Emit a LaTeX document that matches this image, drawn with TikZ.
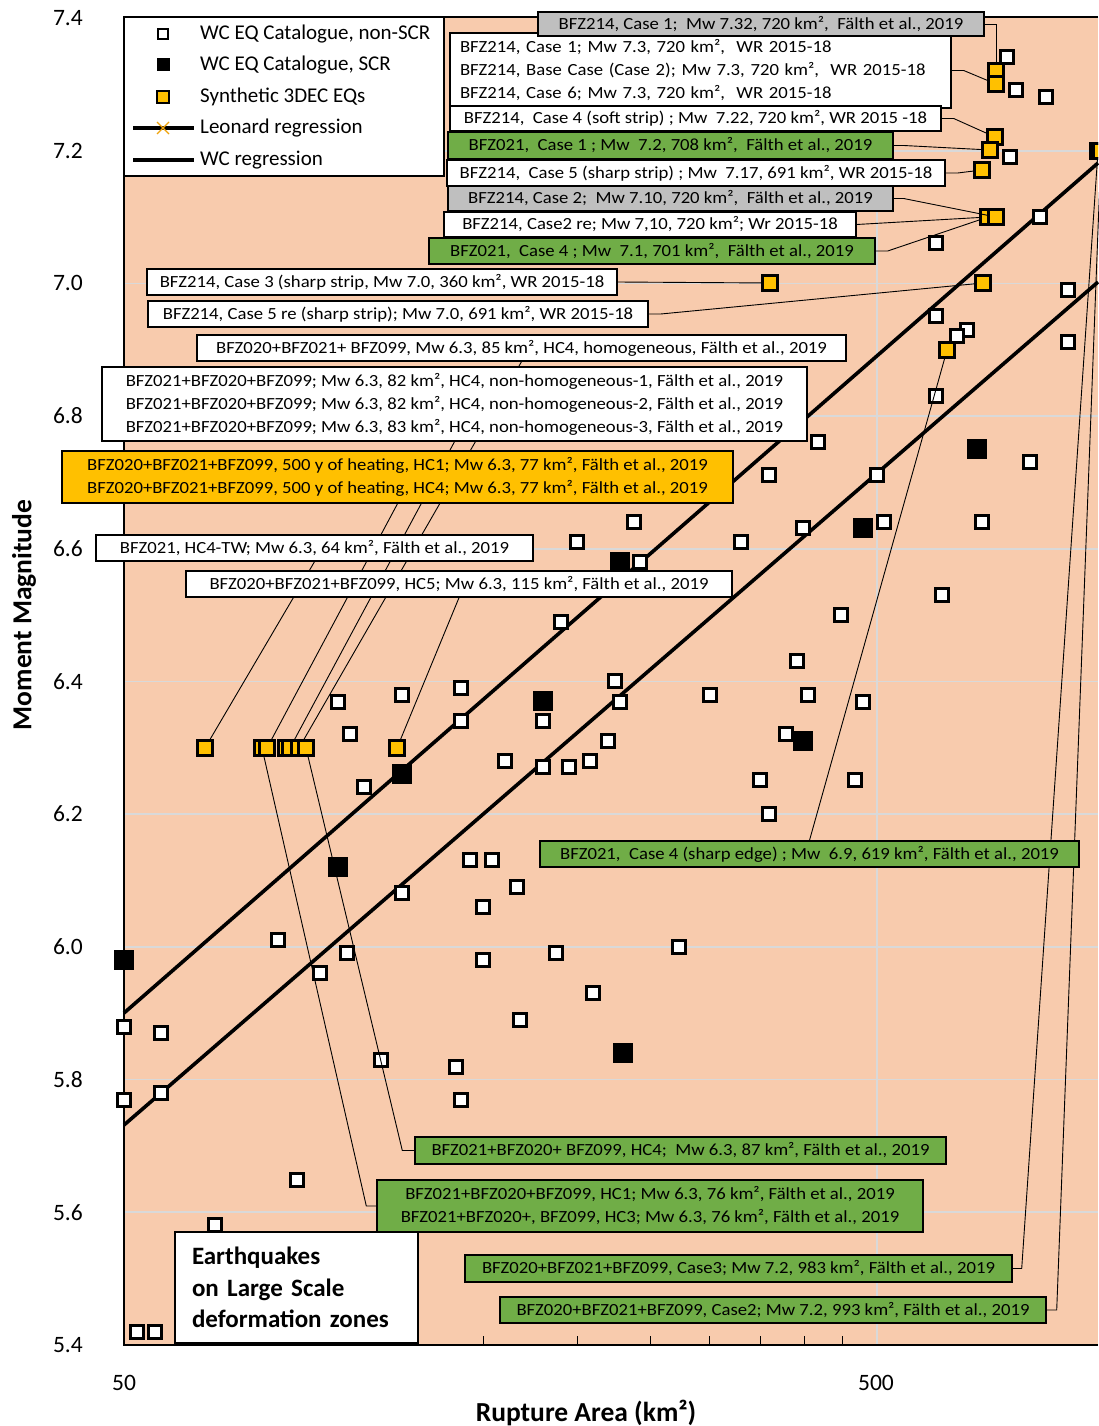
\documentclass[tikz,border=0pt]{standalone}
\usepackage{fontspec}
\setmainfont{Carlito}
\newfontfamily\boxfont{Carlito}[FakeStretch=1.1]
\definecolor{plotbg}{HTML}{F8CBAD}
\definecolor{boxgreen}{HTML}{70AD47}
\definecolor{boxgold}{HTML}{FFC000}
\definecolor{boxgrey}{HTML}{BFBFBF}
\definecolor{gridgrey}{HTML}{D9D9D9}
\definecolor{xorange}{HTML}{F0A30A}
\pgfdeclarelayer{bg}
\pgfdeclarelayer{mk}
\pgfdeclarelayer{ld}
\pgfsetlayers{bg,mk,ld,main}
\tikzset{
  lbl/.style={draw=black, line width=1.4pt, inner sep=0pt, font=\boxfont\fontsize{17}{23}\selectfont, align=center},
  wlbl/.style={lbl, fill=white},
  glbl/.style={lbl, fill=boxgrey},
  grlbl/.style={lbl, fill=boxgreen},
  olbl/.style={lbl, fill=boxgold},
  geo/.style n args={2}{minimum width=#1pt, minimum height=#2pt},
  nscr/.style={draw=black, fill=white, line width=2.7pt, minimum size=13.5pt, inner sep=0pt},
  scr/.style={fill=black, minimum size=20pt, inner sep=0pt},
  syn/.style={draw=black, fill=boxgold, line width=2.7pt, minimum size=14.5pt, inner sep=0pt},
  lnscr/.style={draw=black, fill=white, line width=2.4pt, minimum size=10.5pt, inner sep=0pt},
  lscr/.style={fill=black, minimum size=13pt, inner sep=0pt},
  lsyn/.style={draw=black, fill=boxgold, line width=2.4pt, minimum size=12pt, inner sep=0pt},
  leader/.style={draw=black, line width=0.9pt},
  regline/.style={draw=black, line width=3.6pt},
  gridline/.style={draw=gridgrey, line width=1.6pt},
  ticklbl/.style={font=\fontsize{23.5}{28}\selectfont, inner sep=0pt},
  axtitle/.style={font=\bfseries\fontsize{27.5}{32}\selectfont},
  legtxt/.style={font=\fontsize{21}{25}\selectfont, anchor=west, inner sep=0pt},
}
\begin{document}
\begin{tikzpicture}[x=1pt,y=-1pt]
\useasboundingbox (0,0) rectangle (1098,1426);

\begin{pgfonlayer}{bg}
\fill[plotbg] (124,17) rectangle (1098,1345);
\foreach \y in {150.7,283.4,416,548.7,681.4,814.1,946.8,1079.5,1212.2}
  \draw[gridline] (124,\y) -- (1098,\y);
\draw[gridline] (877,17) -- (877,1345);
\foreach \a in {100,150,...,450}
  \draw[line width=1pt] ({124+753*log10(\a/50)},1345) -- ++(0,-9);
\coordinate (u1) at (124,1013); \coordinate (u2) at (1098,163);
\coordinate (l1) at (124,1125); \coordinate (l2) at (1098,282);
\draw[regline] (u1) -- (u2);
\draw[regline] (l1) -- (l2);
\draw[line width=2pt] (1098,17) -- (124,17) -- (124,1345) -- (1098,1345);
\end{pgfonlayer}

\begin{pgfonlayer}{mk}
\foreach \x/\y [count=\i] in {1007/57, 1016/90, 1046/97, 1010/157, 1040/217, 936/243, 1068/290, 936/316, 967/330, 957/336, 1068/342, 936/396, 818/442, 1030/462, 769/475, 877/475, 634/522, 884/522, 982/522, 803/528, 577/542, 741/542, 640/562, 942/595, 841/615, 561/622, 797/661, 615/681, 461/688, 402/695, 710/695, 808/695, 338/702, 620/702, 863/702, 461/721, 543/721, 350/734, 786/734, 608/741, 505/761, 590/761, 543/767, 569/767, 760/780, 855/780, 364/787, 769/814, 470/860, 492/860, 517/887, 402/893, 483/907, 278/940, 679/947, 347/953, 556/953, 483/960, 320/973, 593/993, 520/1020, 124/1027, 161/1033, 381/1060, 456/1067, 161/1093, 124/1100, 461/1100, 297/1180, 215/1225, 137/1332, 155/1332}
  \node[nscr] (w\i) at (\x,\y) {};
\foreach \x/\y [count=\i] in {124/960, 338/867, 402/774, 543/701, 620/562, 803/741, 863/528, 977/449, 623/1053}
  \node[scr] (k\i) at (\x,\y) {};
\node[syn] (s732) at (996,71) {};
\node[syn] (s73) at (996,84) {};
\node[syn] (s722) at (995,137) {};
\node[syn] (s72) at (990,150) {};
\node[syn] (s717) at (982,170) {};
\node[syn] (s710b) at (988,217) {};
\node[syn] (s710a) at (996,217) {};
\node[syn] (s70a) at (770,283) {};
\node[syn] (s70b) at (983,283) {};
\node[syn] (s69) at (947,350) {};
\node[syn] (s64) at (205,748) {};
\node[syn] (s76) at (262,748) {};
\node[syn] (s77) at (267,748) {};
\node[syn] (s82) at (286,748) {};
\node[syn] (s83) at (290,748) {};
\node[syn] (s85) at (299,748) {};
\node[syn] (s87) at (306,748) {};
\node[syn] (s115) at (397,748) {};
\begin{scope}
\clip (124,17) rectangle (1098,1345);
\node[syn] (s983) at (1098,151) {};
\node[syn] (s993) at (1101,151) {};
\end{scope}
\end{pgfonlayer}

% label boxes
\node[wlbl, geo={501}{75}, text width=481pt, align=left] (b2) at (700.5,70.5) {BFZ214, Case 1; Mw 7.3, 720 km²,\ \ WR 2015-18\\BFZ214, Base Case (Case 2); Mw 7.3, 720 km²,\ \ WR 2015-18\\BFZ214, Case 6; Mw 7.3, 720 km²,\ \ WR 2015-18};
\node[glbl, geo={446}{24}] (b1) at (761,24) {BFZ214, Case 1;\ \ Mw 7.32, 720 km²,\ \ Fälth et al., 2019};
\node[wlbl, geo={491}{25}] (b3) at (695.5,118.5) {BFZ214,\ \ Case 4 (soft strip) ; Mw\ \ 7.22, 720 km², WR 2015 -18};
\node[grlbl, geo={445}{27}] (b4) at (670.5,145.5) {BFZ021,\ \ Case 1 ; Mw\ \ 7.2, 708 km²,\ \ Fälth et al., 2019};
\node[wlbl, geo={498}{26}] (b5) at (696,173) {BFZ214,\ \ Case 5 (sharp strip) ; Mw\ \ 7.17, 691 km², WR 2015-18};
\node[glbl, geo={445}{25}] (b6) at (670.5,198.5) {BFZ214, Case 2;\ \ Mw 7.10, 720 km²,\ \ Fälth et al., 2019};
\node[wlbl, geo={412}{25}] (b7) at (650,224.5) {BFZ214, Case2 re; Mw 7,10, 720 km²; Wr 2015-18};
\node[grlbl, geo={446}{26}] (b8) at (652,251) {BFZ021,\ \ Case 4 ; Mw\ \ 7.1, 701 km²,\ \ Fälth et al., 2019};
\node[wlbl, geo={470}{26}] (b9) at (382,282) {BFZ214, Case 3 (sharp strip, Mw 7.0, 360 km², WR 2015-18};
\node[wlbl, geo={500}{26}] (b10) at (398,314) {BFZ214, Case 5 re (sharp strip); Mw 7.0, 691 km², WR 2015-18};
\node[wlbl, geo={649}{26}] (b11) at (521.5,348) {BFZ020+BFZ021+ BFZ099, Mw 6.3, 85 km², HC4, homogeneous, Fälth et al., 2019};
\node[wlbl, geo={705}{74}] (b12) at (454.5,404) {BFZ021+BFZ020+BFZ099; Mw 6.3, 82 km², HC4, non-homogeneous-1, Fälth et al., 2019\\BFZ021+BFZ020+BFZ099; Mw 6.3, 82 km², HC4, non-homogeneous-2, Fälth et al., 2019\\BFZ021+BFZ020+BFZ099; Mw 6.3, 83 km², HC4, non-homogeneous-3, Fälth et al., 2019};
\node[olbl, geo={671}{52}] (b13) at (397.5,477) {BFZ020+BFZ021+BFZ099, 500 y of heating, HC1; Mw 6.3, 77 km², Fälth et al., 2019\\BFZ020+BFZ021+BFZ099, 500 y of heating, HC4; Mw 6.3, 77 km², Fälth et al., 2019};
\node[wlbl, geo={437}{26}] (b14) at (314.5,548) {BFZ021, HC4-TW; Mw 6.3, 64 km², Fälth et al., 2019};
\node[wlbl, geo={546}{26}] (b15) at (459,584) {BFZ020+BFZ021+BFZ099, HC5; Mw 6.3, 115 km², Fälth et al., 2019};
\node[grlbl, geo={539}{26}] (b16) at (809.5,854) {BFZ021,\ \ Case 4 (sharp edge) ; Mw\ \ 6.9, 619 km², Fälth et al., 2019};
\node[grlbl, geo={531}{27}] (b17) at (680.5,1150.5) {BFZ021+BFZ020+ BFZ099, HC4;\ \ Mw 6.3, 87 km², Fälth et al., 2019};
\node[grlbl, geo={546}{52}] (b18) at (650,1206) {BFZ021+BFZ020+BFZ099, HC1; Mw 6.3, 76 km², Fälth et al., 2019\\BFZ021+BFZ020+, BFZ099, HC3; Mw 6.3, 76 km², Fälth et al., 2019};
\node[grlbl, geo={547}{27}] (b19) at (738.5,1268.5) {BFZ020+BFZ021+BFZ099, Case3; Mw 7.2, 983 km², Fälth et al., 2019};
\node[grlbl, geo={546}{26}] (b20) at (773,1310) {BFZ020+BFZ021+BFZ099, Case2; Mw 7.2, 993 km², Fälth et al., 2019};
\node[draw=black, line width=1.4pt, fill=white, inner sep=0pt, geo={243}{111}, text width=209pt, align=left, font=\bfseries\fontsize{25}{31.5}\selectfont] (b21) at (296.5,1287.5) {Earthquakes\\on Large Scale\\deformation zones};

% leaders
\begin{pgfonlayer}{ld}
\draw[leader] (b1.east) -| (s732);
\draw[leader] (b2.east) -- ++(12,0) -- (s73);
\draw[leader] (b3.east) -- ++(12,0) -- (s722);
\draw[leader] (b4.east) -- ++(10,0) -- (s72);
\draw[leader] (b5.east) -- ++(12,0) -- (s717);
\draw[leader] (b6.east) -- ++(10,0) -- (s710a);
\draw[leader] (b7.east) -- (s710b);
\draw[leader] (b8.east) -- ++(12,0) -- (s710b);
\draw[leader] (b9.east) -- (s70a);
\draw[leader] (b10.east) -- ++(12,0) -- (s70b);
\draw[leader] (b11.south) -- (s85);
\draw[leader] (b12.south) -- (s83);
\draw[leader] (b13.south) -- (s77);
\draw[leader] (b14.south) -- (s64);
\draw[leader] (b15.south) -- (s115);
\draw[leader] (b16.north) -- (s69);
\draw[leader] (s87) -- ([xshift=-12pt]b17.west) -- (b17.west);
\draw[leader] (s76) -- ([xshift=-10pt]b18.west) -- (b18.west);
\draw[leader] (b19.east) -- ++(9,0) -- (s983);
\draw[leader] (b20.east) -- ++(10,0) -- (s993);
\end{pgfonlayer}

% legend
\node[draw=black, line width=1.4pt, fill=white, minimum width=320pt, minimum height=159pt, inner sep=0pt] (leg) at (284,96.5) {};
\node[lnscr] (lg1) at (163,34) {};
\node[lscr] (lg2) at (163,65) {};
\node[lsyn] (lg3) at (163,97) {};
\coordinate (lg4a) at (133,128); \coordinate (lg4b) at (194,128);
\coordinate (lg5a) at (133,160); \coordinate (lg5b) at (194,160);
\draw[line width=3.2pt] (lg4a) -- (lg4b);
\draw[xorange, line width=1.3pt] (157,122) -- (169,134) (157,134) -- (169,122);
\draw[line width=3.2pt] (lg5a) -- (lg5b);
\node[legtxt] (lt1) at (200,34) {WC EQ Catalogue, non-SCR};
\node[legtxt] (lt2) at (200,65) {WC EQ Catalogue, SCR};
\node[legtxt] (lt3) at (200,97) {Synthetic 3DEC EQs};
\node[legtxt] (lt4) at (200,128) {Leonard regression};
\node[legtxt] (lt5) at (200,160) {WC regression};

% axis labels
\foreach \v/\y [count=\i] in {7.4/18, 7.2/150.7, 7.0/283.4, 6.8/416, 6.6/548.7, 6.4/681.4, 6.2/814.1, 6.0/946.8, 5.8/1079.5, 5.6/1212.2, 5.4/1345}
  \node[ticklbl, anchor=east] (yl\i) at (83,\y) {\v};
\node[ticklbl] (xl1) at (124,1383) {50};
\node[ticklbl] (xl2) at (876,1383) {500};
\node[axtitle, rotate=90] (ytitle) at (24,615) {Moment Magnitude};
\node[axtitle] (xtitle) at (586,1413) {Rupture Area (km²)};
\end{tikzpicture}
\end{document}
